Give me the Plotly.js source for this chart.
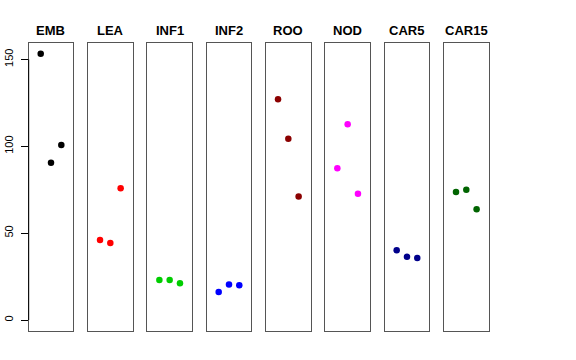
<!DOCTYPE html>
<html>
<head>
<meta charset="utf-8">
<script src="https://cdn.plot.ly/plotly-3.0.1.min.js"></script>
<style>html,body{margin:0;padding:0;background:#fff}#chart{width:576px;height:360px}</style>
</head>
<body>
<div id="chart"></div>
<script>
var panels = ["EMB", "LEA", "INF1", "INF2", "ROO", "NOD", "CAR5", "CAR15"];
var colors = ["#000000", "#FF0000", "#00CD00", "#0000FF", "#8B0000", "#FF00FF", "#00008B", "#006400"];
var xPos = [1, 2, 3];
var EMB = [153.2, 90.5, 100.7];
var LEA = [46.0, 44.3, 75.8];
var INF1 = [23.0, 23.0, 21.1];
var INF2 = [16.1, 20.5, 20.0];
var ROO = [127.0, 104.3, 71.0];
var NOD = [87.3, 112.6, 72.7];
var CAR5 = [40.1, 36.4, 35.7];
var CAR15 = [73.6, 75.0, 63.7];
var yTicks = [0, 50, 100, 150];
var series = [EMB, LEA, INF1, INF2, ROO, NOD, CAR5, CAR15];

var W = 576, H = 360;
var left0 = 28.7, pitch = 59.33, pw = 44.6;
var yTop = 43, yBot = 331;
var yRange = [-6.33, 159.4];

var data = [];
var layout = {
  width: W, height: H,
  margin: {l: 0, r: 0, t: 0, b: 0},
  paper_bgcolor: "#fff", plot_bgcolor: "#fff",
  showlegend: false,
  annotations: [],
  shapes: []
};
for (var i = 0; i < panels.length; i++) {
  var sfx = i === 0 ? "" : String(i + 1);
  data.push({
    type: "scatter", mode: "markers",
    x: xPos, y: series[i],
    xaxis: "x" + sfx, yaxis: "y" + sfx,
    marker: {color: colors[i], size: 6.5},
    hoverinfo: "skip"
  });
  var x0 = (left0 + i * pitch) / W, x1 = (left0 + i * pitch + pw) / W;
  layout["xaxis" + sfx] = {
    domain: [x0, x1], range: [-0.165, 4.165],
    showgrid: false, zeroline: false, showticklabels: false, ticks: "",
    showline: true, mirror: true, linecolor: "#555", linewidth: 1,
    anchor: "y" + sfx, fixedrange: true
  };
  var ya = {
    domain: [1 - yBot / H, 1 - yTop / H], range: yRange,
    showgrid: false, zeroline: false,
    showline: true, mirror: true, linecolor: "#555", linewidth: 1,
    anchor: "x" + sfx, fixedrange: true,
    showticklabels: false, ticks: ""
  };
  if (i === 0) {
    ya.showticklabels = true;
    ya.ticks = "outside";
    ya.tickvals = yTicks;
    ya.ticktext = yTicks.map(String);
    ya.ticklen = 7;
    ya.tickcolor = "#000";
    ya.tickwidth = 1;
    ya.tickangle = -90;
    ya.ticklabelstandoff = 3;
    ya.tickfont = {family: "Liberation Sans, Arial, sans-serif", size: 11, color: "#000"};
  }
  layout["yaxis" + sfx] = ya;
  layout.annotations.push({
    text: "<b>" + panels[i] + "</b>",
    xref: "paper", yref: "paper",
    x: (x0 + x1) / 2, y: 1 - 30 / H,
    xanchor: "center", yanchor: "middle",
    showarrow: false,
    font: {family: "Liberation Sans, Arial, sans-serif", size: 13, color: "#000"}
  });
}
layout.shapes.push({
  type: "line", xref: "paper", yref: "y",
  x0: left0 / W, x1: left0 / W, y0: yTicks[0], y1: yTicks[yTicks.length - 1],
  line: {color: "#000", width: 1}
});
Plotly.newPlot("chart", data, layout, {staticPlot: true, displayModeBar: false});
</script>
</body>
</html>
